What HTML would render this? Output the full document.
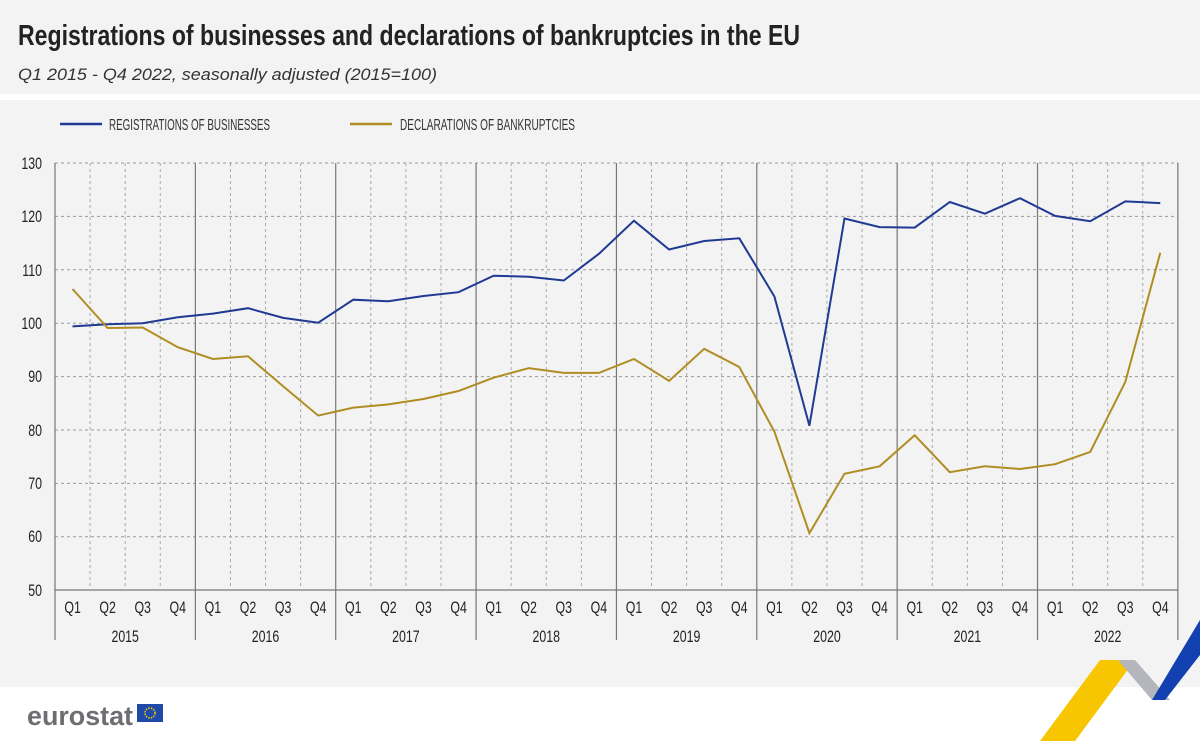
<!DOCTYPE html>
<html><head><meta charset="utf-8"><style>
body{margin:0;width:1200px;height:741px;background:#fff;overflow:hidden;font-family:"Liberation Sans",sans-serif}
</style></head><body>
<svg id="s" width="1200" height="741" xmlns="http://www.w3.org/2000/svg" style="position:absolute;left:0;top:0">
<rect x="0" y="0" width="1200" height="94" fill="#f3f3f3"/>
<rect x="0" y="100" width="1200" height="587" fill="#f3f3f3"/>
<text x="18" y="45" font-weight="bold" font-size="29" fill="#222" textLength="782" lengthAdjust="spacingAndGlyphs">Registrations of businesses and declarations of bankruptcies in the EU</text>
<text x="18" y="80" font-style="italic" font-size="17" fill="#333" textLength="419" lengthAdjust="spacingAndGlyphs">Q1 2015 - Q4 2022, seasonally adjusted  (2015=100)</text>
<line x1="60" y1="124" x2="102" y2="124" stroke="#1f3a93" stroke-width="2.5"/>
<text x="109" y="130" font-size="16" fill="#333" textLength="161" lengthAdjust="spacingAndGlyphs">REGISTRATIONS OF BUSINESSES</text>
<line x1="350" y1="124" x2="392" y2="124" stroke="#b08d23" stroke-width="2.5"/>
<text x="400" y="130" font-size="16" fill="#333" textLength="175" lengthAdjust="spacingAndGlyphs">DECLARATIONS OF BANKRUPTCIES</text>
<g id="grid"></g>
<g class="sq" font-size="16.5" fill="#222" text-anchor="end">
<text x="42" y="169">130</text><text x="42" y="222">120</text><text x="42" y="276">110</text><text x="42" y="329">100</text>
<text x="42" y="382">90</text><text x="42" y="436">80</text><text x="42" y="489">70</text><text x="42" y="542">60</text><text x="42" y="596">50</text>
</g>
<g class="sq" font-size="16.5" fill="#222" text-anchor="middle">
<text x="72.6" y="613">Q1</text><text x="107.6" y="613">Q2</text><text x="142.7" y="613">Q3</text><text x="177.8" y="613">Q4</text>
<text x="212.9" y="613">Q1</text><text x="248" y="613">Q2</text><text x="283.1" y="613">Q3</text><text x="318.2" y="613">Q4</text>
<text x="353.3" y="613">Q1</text><text x="388.4" y="613">Q2</text><text x="423.5" y="613">Q3</text><text x="458.6" y="613">Q4</text>
<text x="493.6" y="613">Q1</text><text x="528.7" y="613">Q2</text><text x="563.8" y="613">Q3</text><text x="598.9" y="613">Q4</text>
<text x="634" y="613">Q1</text><text x="669.1" y="613">Q2</text><text x="704.2" y="613">Q3</text><text x="739.3" y="613">Q4</text>
<text x="774.4" y="613">Q1</text><text x="809.5" y="613">Q2</text><text x="844.5" y="613">Q3</text><text x="879.6" y="613">Q4</text>
<text x="914.7" y="613">Q1</text><text x="949.8" y="613">Q2</text><text x="984.9" y="613">Q3</text><text x="1020" y="613">Q4</text>
<text x="1055.1" y="613">Q1</text><text x="1090.2" y="613">Q2</text><text x="1125.3" y="613">Q3</text><text x="1160.4" y="613">Q4</text>
<text x="125.2" y="642">2015</text><text x="265.5" y="642">2016</text><text x="405.9" y="642">2017</text><text x="546.3" y="642">2018</text>
<text x="686.6" y="642">2019</text><text x="827" y="642">2020</text><text x="967.4" y="642">2021</text><text x="1107.7" y="642">2022</text>
</g>
<polyline id="blue" fill="none" stroke="#1f3a93" stroke-width="2"/>
<polyline id="gold" fill="none" stroke="#b08d23" stroke-width="2"/>
<text x="27" y="725" font-weight="bold" font-size="27" fill="#6d6e71" textLength="106" lengthAdjust="spacingAndGlyphs">eurostat</text>
<rect x="137" y="704" width="26" height="18" fill="#1f4aa8"/>
<circle cx="150" cy="713" r="5" fill="none" stroke="#f5d000" stroke-width="1.5" stroke-dasharray="1.5 1.2"/>
<polygon points="1040,741 1100,660 1135,660 1075,741" fill="#f7c600"/>
<polygon points="1118,660 1135,660 1170,700 1152,700" fill="#b4b6bb"/>
<polygon points="1152,700 1200,620 1200,655 1165,700" fill="#1340b0"/>
</svg>
<script>
var g=document.getElementById('grid'),h='';
function X(i){return 55+17.55+35.09*i}
function Y(v){return 163+(130-v)*5.34}
for(var k=0;k<8;k++){var y=163+k*53.4;h+='<line x1="55" x2="1178" y1="'+y+'" y2="'+y+'" stroke="#999" stroke-dasharray="3 3"/>';}
h+='<line x1="55" x2="1178" y1="590" y2="590" stroke="#777" stroke-width="1.2"/>';
for(var i=0;i<=32;i++){var x=55+35.09*i;if(i%4==0)h+='<line x1="'+x+'" x2="'+x+'" y1="163" y2="640" stroke="#777" stroke-width="1.2"/>';else h+='<line x1="'+x+'" x2="'+x+'" y1="163" y2="590" stroke="#aaa" stroke-dasharray="3 3"/>';}
g.innerHTML=h;
var b=[99.4,99.8,100,101.1,101.8,102.8,101,100.1,104.4,104.1,105.1,105.8,108.9,108.7,108,113,119.2,113.8,115.4,115.9,105,80.8,119.6,118,117.9,122.7,120.5,123.4,120.1,119.1,122.8,122.5];
var d=[106.4,99.1,99.2,95.5,93.3,93.8,88.2,82.7,84.2,84.8,85.8,87.3,89.8,91.6,90.7,90.7,93.3,89.2,95.2,91.8,79.7,60.7,71.8,73.2,79,72.1,73.2,72.7,73.6,75.9,89,113.2];
function pts(a){return a.map(function(v,i){return X(i).toFixed(1)+','+Y(v).toFixed(1)}).join(' ')}
document.getElementById('blue').setAttribute('points',pts(b));
document.getElementById('gold').setAttribute('points',pts(d));
document.querySelectorAll('.sq text').forEach(function(t){var l=t.getComputedTextLength();t.setAttribute('textLength',(l*0.75).toFixed(1));t.setAttribute('lengthAdjust','spacingAndGlyphs');});
</script>
</body></html>
